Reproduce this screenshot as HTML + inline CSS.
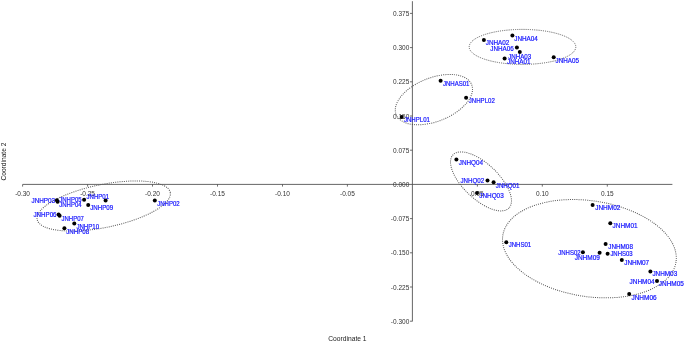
<!DOCTYPE html>
<html lang="en"><head><meta charset="utf-8"><title>PCoA plot</title>
<style>html,body{margin:0;padding:0;background:#fff;overflow:hidden}svg{display:block}</style>
</head><body>
<svg width="685" height="342" viewBox="0 0 685 342">
<rect width="685" height="342" fill="#fff"/>
<g fill="none" stroke="#555" stroke-width="1" stroke-dasharray="1 1.15">
<ellipse cx="522.5" cy="46.9" rx="53.3" ry="17.5" transform="rotate(0 522.5 46.9)"/>
<ellipse cx="433.9" cy="99.6" rx="40.6" ry="21.8" transform="rotate(-21.5 433.9 99.6)"/>
<ellipse cx="481.0" cy="181.4" rx="38.6" ry="17.6" transform="rotate(43.6 481.0 181.4)"/>
<ellipse cx="103.7" cy="206.0" rx="67.9" ry="21.5" transform="rotate(-11.5 103.7 206.0)"/>
<ellipse cx="589.4" cy="248.7" rx="87.6" ry="47.9" transform="rotate(8.7 589.4 248.7)"/>
</g>
<g stroke="#4a4a4a" stroke-width="0.85" fill="none">
<path d="M22.7 184.4H672.4"/>
<path d="M412.4 1.2V321.4"/>
<path d="M22.6 184.4v2.2M87.6 184.4v2.2M152.5 184.4v2.2M217.5 184.4v2.2M282.5 184.4v2.2M347.4 184.4v2.2M477.4 184.4v2.2M542.3 184.4v2.2M607.3 184.4v2.2M412.4 13.4h-2.4M412.4 47.6h-2.4M412.4 81.8h-2.4M412.4 116.0h-2.4M412.4 150.2h-2.4M412.4 218.6h-2.4M412.4 252.8h-2.4M412.4 287.0h-2.4M412.4 321.2h-2.4" stroke-width="0.8"/>
</g>
<g font-family="'Liberation Sans',Arial,sans-serif" font-size="6.5" fill="#333">
<text x="22.6" y="195.5" text-anchor="middle">-0.30</text>
<text x="87.6" y="195.5" text-anchor="middle">-0.25</text>
<text x="152.5" y="195.5" text-anchor="middle">-0.20</text>
<text x="217.5" y="195.5" text-anchor="middle">-0.15</text>
<text x="282.5" y="195.5" text-anchor="middle">-0.10</text>
<text x="347.4" y="195.5" text-anchor="middle">-0.05</text>
<text x="477.4" y="195.5" text-anchor="middle">0.05</text>
<text x="542.3" y="195.5" text-anchor="middle">0.10</text>
<text x="607.3" y="195.5" text-anchor="middle">0.15</text>
<text x="409.3" y="16.0" text-anchor="end">0.375</text>
<text x="409.3" y="50.2" text-anchor="end">0.300</text>
<text x="409.3" y="84.4" text-anchor="end">0.225</text>
<text x="409.3" y="118.6" text-anchor="end">0.150</text>
<text x="409.3" y="152.8" text-anchor="end">0.075</text>
<text x="409.3" y="221.2" text-anchor="end">-0.075</text>
<text x="409.3" y="255.4" text-anchor="end">-0.150</text>
<text x="409.3" y="289.6" text-anchor="end">-0.225</text>
<text x="409.3" y="323.8" text-anchor="end">-0.300</text>
<text x="409.3" y="187.0" text-anchor="end">0.000</text>
<text x="347.4" y="340.7" text-anchor="middle" font-size="7.2" fill="#222" textLength="38.4" lengthAdjust="spacingAndGlyphs">Coordinate 1</text>
<text transform="translate(5.9 161.6) rotate(-90)" text-anchor="middle" font-size="7.2" fill="#222" textLength="37.8" lengthAdjust="spacingAndGlyphs">Coordinate 2</text>
</g>
<g fill="#000">
<circle cx="512.4" cy="35.4" r="2"/>
<circle cx="483.9" cy="40.1" r="2"/>
<circle cx="516.9" cy="47.4" r="2"/>
<circle cx="519.8" cy="51.9" r="2"/>
<circle cx="504.6" cy="58.5" r="2"/>
<circle cx="553.7" cy="57.2" r="2"/>
<circle cx="440.6" cy="80.8" r="2"/>
<circle cx="466.1" cy="97.7" r="2"/>
<circle cx="401.7" cy="117.0" r="2"/>
<circle cx="456.4" cy="159.5" r="2"/>
<circle cx="487.5" cy="180.6" r="2"/>
<circle cx="493.6" cy="182.2" r="2"/>
<circle cx="477.0" cy="193.1" r="2"/>
<circle cx="56.9" cy="200.2" r="2"/>
<circle cx="57.6" cy="201.8" r="2"/>
<circle cx="84.1" cy="199.8" r="2"/>
<circle cx="105.6" cy="200.6" r="2"/>
<circle cx="88.2" cy="205.1" r="2"/>
<circle cx="58.6" cy="214.5" r="2"/>
<circle cx="59.6" cy="215.7" r="2"/>
<circle cx="74.3" cy="223.6" r="2"/>
<circle cx="64.4" cy="228.3" r="2"/>
<circle cx="154.8" cy="200.5" r="2"/>
<circle cx="506.3" cy="242.3" r="2"/>
<circle cx="592.6" cy="204.9" r="2"/>
<circle cx="610.3" cy="223.2" r="2"/>
<circle cx="605.6" cy="244.1" r="2"/>
<circle cx="582.9" cy="252.3" r="2"/>
<circle cx="599.6" cy="252.7" r="2"/>
<circle cx="607.6" cy="253.7" r="2"/>
<circle cx="621.8" cy="259.9" r="2"/>
<circle cx="650.4" cy="271.6" r="2"/>
<circle cx="657.0" cy="281.0" r="2"/>
<circle cx="629.2" cy="294.0" r="2"/>
</g>
<g font-family="'Liberation Sans',Arial,sans-serif" font-size="6.8" fill="#1414ff" stroke="#1414ff" stroke-width="0.2">
<text x="514.3" y="40.6" textLength="23.6" lengthAdjust="spacingAndGlyphs">JNHA04</text>
<text x="485.8" y="45.2" textLength="23.6" lengthAdjust="spacingAndGlyphs">JNHA02</text>
<text x="490.3" y="50.5" textLength="23.4" lengthAdjust="spacingAndGlyphs">JNHA06</text>
<text x="508.2" y="59.1" textLength="23.0" lengthAdjust="spacingAndGlyphs">JNHA03</text>
<text x="507.0" y="63.8" textLength="23.6" lengthAdjust="spacingAndGlyphs">JNHA01</text>
<text x="555.6" y="62.6" textLength="23.3" lengthAdjust="spacingAndGlyphs">JNHA05</text>
<text x="442.9" y="86.1" textLength="26.5" lengthAdjust="spacingAndGlyphs">JNHAS01</text>
<text x="468.8" y="102.8" textLength="26.0" lengthAdjust="spacingAndGlyphs">JNHPL02</text>
<text x="403.9" y="122.2" textLength="26.0" lengthAdjust="spacingAndGlyphs">JNHPL01</text>
<text x="458.8" y="164.7" textLength="24.2" lengthAdjust="spacingAndGlyphs">JNHQ04</text>
<text x="460.5" y="183.3" textLength="23.7" lengthAdjust="spacingAndGlyphs">JNHQ02</text>
<text x="495.8" y="187.6" textLength="23.7" lengthAdjust="spacingAndGlyphs">JNHQ01</text>
<text x="479.3" y="197.6" textLength="24.4" lengthAdjust="spacingAndGlyphs">JNHQ03</text>
<text x="31.5" y="202.7" textLength="23.6" lengthAdjust="spacingAndGlyphs">JNHP03</text>
<text x="59.3" y="202.3" textLength="22.3" lengthAdjust="spacingAndGlyphs">JNHP05</text>
<text x="59.3" y="207.0" textLength="22.3" lengthAdjust="spacingAndGlyphs">JNHP04</text>
<text x="86.5" y="198.8" textLength="22.5" lengthAdjust="spacingAndGlyphs">JNHP01</text>
<text x="90.3" y="210.0" textLength="22.8" lengthAdjust="spacingAndGlyphs">JNHP09</text>
<text x="33.4" y="216.8" textLength="23.2" lengthAdjust="spacingAndGlyphs">JNHP06</text>
<text x="61.5" y="220.9" textLength="22.3" lengthAdjust="spacingAndGlyphs">JNHP07</text>
<text x="76.4" y="228.5" textLength="22.7" lengthAdjust="spacingAndGlyphs">JNHP10</text>
<text x="66.2" y="233.5" textLength="22.9" lengthAdjust="spacingAndGlyphs">JNHP08</text>
<text x="157.2" y="205.7" textLength="22.4" lengthAdjust="spacingAndGlyphs">JNHP02</text>
<text x="508.7" y="247.4" textLength="22.5" lengthAdjust="spacingAndGlyphs">JNHS01</text>
<text x="595.2" y="210.2" textLength="25.2" lengthAdjust="spacingAndGlyphs">JNHM02</text>
<text x="612.6" y="228.4" textLength="25.0" lengthAdjust="spacingAndGlyphs">JNHM01</text>
<text x="608.3" y="249.3" textLength="24.6" lengthAdjust="spacingAndGlyphs">JNHM08</text>
<text x="558.3" y="254.6" textLength="22.3" lengthAdjust="spacingAndGlyphs">JNHS02</text>
<text x="574.7" y="259.8" textLength="25.2" lengthAdjust="spacingAndGlyphs">JNHM09</text>
<text x="610.4" y="256.4" textLength="22.2" lengthAdjust="spacingAndGlyphs">JNHS03</text>
<text x="624.2" y="265.2" textLength="25.0" lengthAdjust="spacingAndGlyphs">JNHM07</text>
<text x="652.4" y="276.4" textLength="24.8" lengthAdjust="spacingAndGlyphs">JNHM03</text>
<text x="629.6" y="283.8" textLength="25.0" lengthAdjust="spacingAndGlyphs">JNHM04</text>
<text x="658.8" y="286.3" textLength="25.0" lengthAdjust="spacingAndGlyphs">JNHM05</text>
<text x="631.4" y="299.6" textLength="25.2" lengthAdjust="spacingAndGlyphs">JNHM06</text>
</g>
</svg>
</body></html>
